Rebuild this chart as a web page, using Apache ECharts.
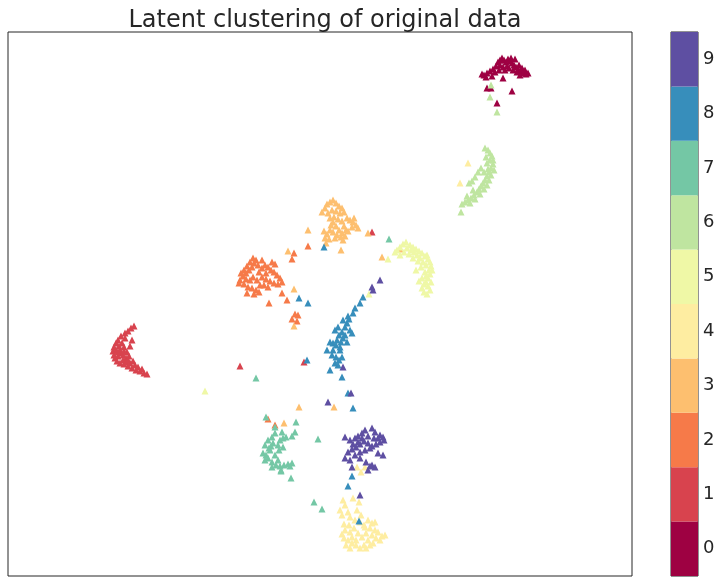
<!DOCTYPE html>
<html>
<head>
<meta charset="utf-8">
<script src="https://cdn.jsdelivr.net/npm/echarts@6/dist/echarts.min.js"></script>
<style>
  html, body { margin: 0; padding: 0; background: #fff; }
  #chart { width: 725px; height: 583px; }
</style>
</head>
<body>
<div id="chart"></div>
<script>
// latent coords (x to the right, y downward)
const cluster0 = [[484,75],[487,73],[490,71],[486,77],[493,69],[496,66],[498,62],[500,60],[502,58],[504,60],[506,62],[500,65],[503,67],[507,66],[510,61],[512,63],[514,65],[516,67],[518,69],[520,71],[522,73],[524,72],[526,74],[513,70],[517,72],[509,68],[505,70],[499,70],[495,72],[492,76],[482,74],[511,58],[508,59],[519,65],[522,68],[525,70],[503,78],[487,88],[491,88],[512,91],[497,103],[528,73],[515,59],[520,75]]
const cluster1 = [[134,326],[131,328],[128,331],[125,333],[121,336],[118,340],[116,343],[114,347],[113,351],[116,350],[119,346],[122,343],[124,347],[121,353],[118,356],[115,358],[117,361],[120,363],[124,364],[128,366],[132,368],[136,370],[140,371],[144,373],[147,374],[126,358],[129,356],[133,361],[123,360],[127,352],[130,346],[132,340],[135,365],[138,367],[142,369],[125,338],[114,355],[120,350],[123,355],[126,362],[130,363],[118,352],[124,351],[128,360],[304,362],[372,232],[240,366]]
const cluster2 = [[240,280],[243,276],[246,273],[249,270],[252,267],[254,263],[256,260],[253,258],[250,262],[247,266],[244,270],[241,273],[239,283],[244,284],[248,287],[252,288],[256,290],[260,285],[257,280],[253,277],[250,280],[246,279],[259,272],[262,268],[265,265],[268,267],[271,270],[274,272],[277,275],[280,278],[282,282],[278,284],[274,283],[270,281],[266,279],[262,277],[264,285],[268,287],[259,292],[254,294],[275,264],[272,262],[266,273],[258,265],[262,260],[294,253],[292,259],[308,246],[282,293],[287,300],[269,303],[247,293],[295,314],[292,319],[297,321],[298,315],[268,419],[275,425]]
const cluster3 = [[322,212],[325,208],[327,204],[330,202],[333,200],[336,203],[339,206],[342,208],[344,212],[340,213],[336,211],[332,210],[328,213],[330,218],[333,222],[336,226],[339,230],[342,233],[345,236],[341,237],[337,235],[333,232],[330,230],[327,234],[325,238],[329,239],[334,217],[338,219],[344,226],[347,218],[350,220],[353,222],[356,225],[358,228],[352,227],[346,230],[335,238],[324,231],[331,225],[342,221],[348,231],[354,218],[326,243],[343,240],[308,230],[341,250],[368,233],[382,257],[400,249],[288,251],[294,289],[294,326],[299,407],[284,423],[334,407]]
const cluster4 = [[343,500],[345,505],[340,510],[342,515],[348,512],[350,517],[355,520],[357,510],[359,502],[353,498],[360,522],[364,525],[368,520],[372,523],[370,528],[375,530],[378,532],[382,536],[380,540],[376,538],[372,535],[368,540],[364,545],[360,548],[356,545],[352,543],[348,540],[344,538],[342,534],[345,530],[350,532],[354,528],[358,533],[362,537],[366,533],[352,537],[356,540],[346,545],[350,548],[370,545],[366,548],[373,543],[365,527],[361,515],[349,525],[344,524],[375,522],[385,535],[357,467],[365,467],[361,472],[468,163],[460,183]]
const cluster5 = [[397,250],[400,247],[403,244],[406,242],[410,245],[413,247],[416,249],[419,251],[422,253],[425,256],[428,259],[430,262],[431,266],[432,270],[430,274],[428,278],[426,282],[428,286],[430,290],[427,294],[424,292],[422,288],[424,284],[426,276],[429,270],[426,265],[423,262],[420,258],[417,255],[414,252],[411,250],[407,248],[404,252],[409,254],[413,258],[418,261],[421,267],[425,272],[416,270],[419,281],[422,278],[400,255],[395,252],[427,255],[431,282],[388,259],[369,294],[205,391]]
const cluster6 = [[485,148],[488,150],[490,153],[492,156],[493,160],[493,164],[491,168],[489,172],[487,176],[485,180],[483,183],[481,186],[479,189],[477,192],[474,195],[471,198],[468,200],[465,202],[462,204],[470,203],[475,199],[480,194],[484,189],[487,185],[489,180],[491,175],[494,170],[490,160],[487,163],[486,157],[481,168],[478,172],[475,177],[472,181],[469,183],[484,172],[488,169],[473,190],[467,196],[461,212],[491,85],[490,97],[497,112]]
const cluster7 = [[265,445],[268,440],[272,437],[275,433],[270,450],[266,455],[263,453],[268,458],[272,462],[276,465],[280,466],[284,465],[288,464],[292,463],[278,460],[275,455],[271,446],[279,450],[283,447],[280,440],[283,438],[286,437],[273,443],[269,448],[265,460],[272,467],[281,470],[290,466],[278,445],[266,417],[275,427],[282,432],[292,436],[295,432],[296,422],[318,439],[291,478],[281,471],[314,502],[322,509],[389,239],[256,378]]
const cluster8 = [[363,297],[360,303],[355,308],[353,313],[349,319],[347,323],[345,327],[342,332],[339,335],[337,340],[333,343],[330,342],[327,350],[332,355],[340,350],[342,357],[335,363],[338,365],[330,370],[342,377],[350,330],[352,333],[347,342],[335,330],[340,347],[333,350],[343,320],[348,316],[338,327],[343,338],[336,345],[341,342],[345,335],[336,357],[339,360],[308,303],[307,360],[299,298],[324,247],[353,408],[352,476],[348,486],[359,521],[348,393]]
const cluster9 = [[345,437],[350,440],[355,438],[358,436],[362,433],[365,430],[372,428],[375,432],[380,435],[383,437],[384,440],[380,442],[376,444],[372,446],[368,443],[364,441],[360,444],[356,447],[352,449],[348,452],[355,455],[360,452],[365,450],[370,448],[378,438],[374,438],[368,436],[362,438],[358,442],[353,444],[345,458],[350,460],[360,458],[366,462],[372,465],[375,467],[378,453],[383,455],[368,470],[370,466],[352,467],[328,402],[372,287],[373,290],[380,280],[343,367],[351,393],[360,495]]

const clusters = [cluster0, cluster1, cluster2, cluster3, cluster4, cluster5, cluster6, cluster7, cluster8, cluster9]
const labels = ['0', '1', '2', '3', '4', '5', '6', '7', '8', '9']
// Spectral, 10 steps
const colors = ['#9e0142', '#d8434e', '#f67a49', '#fdbf6f', '#feeda1', '#eff8a6', '#bfe5a0', '#74c7a5', '#378ebb', '#5e4fa2']

const chart = echarts.init(document.getElementById('chart'))

const scatterSeries = clusters.map((pts, i) => ({
  type: 'scatter',
  name: labels[i],
  xAxisIndex: 0,
  yAxisIndex: 0,
  symbol: 'triangle',
  symbolSize: 7,
  itemStyle: { color: colors[i], opacity: 1 },
  data: pts
}))

chart.setOption({
  animation: false,
  title: {
    text: 'Latent clustering of original data',
    left: 320,
    textAlign: 'center',
    top: 4,
    textStyle: {
      fontFamily: 'DejaVu Sans',
      fontSize: 24,
      fontWeight: 'normal',
      color: '#262626'
    }
  },
  grid: [
    { left: 8, top: 32, width: 624, height: 544, show: true, borderColor: '#262626', borderWidth: 1, backgroundColor: '#fff' },
    { left: 671, top: 32, width: 27, height: 544, show: true, borderColor: '#262626', borderWidth: 1 }
  ],
  xAxis: [
    { gridIndex: 0, type: 'value', min: 8, max: 632, show: false },
    { gridIndex: 1, type: 'value', min: 0, max: 1, show: false }
  ],
  yAxis: [
    { gridIndex: 0, type: 'value', min: 32, max: 576, inverse: true, show: false },
    {
      gridIndex: 1,
      type: 'category',
      data: labels,
      position: 'right',
      axisLine: { show: false },
      axisTick: { show: true, alignWithLabel: true, length: 4, lineStyle: { color: '#262626' } },
      axisLabel: { fontFamily: 'DejaVu Sans', fontSize: 18, color: '#262626', margin: 5 },
      splitLine: { show: false }
    }
  ],
  series: [
    {
      type: 'bar',
      xAxisIndex: 1,
      yAxisIndex: 1,
      barWidth: '100%',
      barCategoryGap: 0,
      silent: true,
      data: colors.map(c => ({ value: 1, itemStyle: { color: c } }))
    },
    ...scatterSeries
  ]
})
</script>
</body>
</html>
